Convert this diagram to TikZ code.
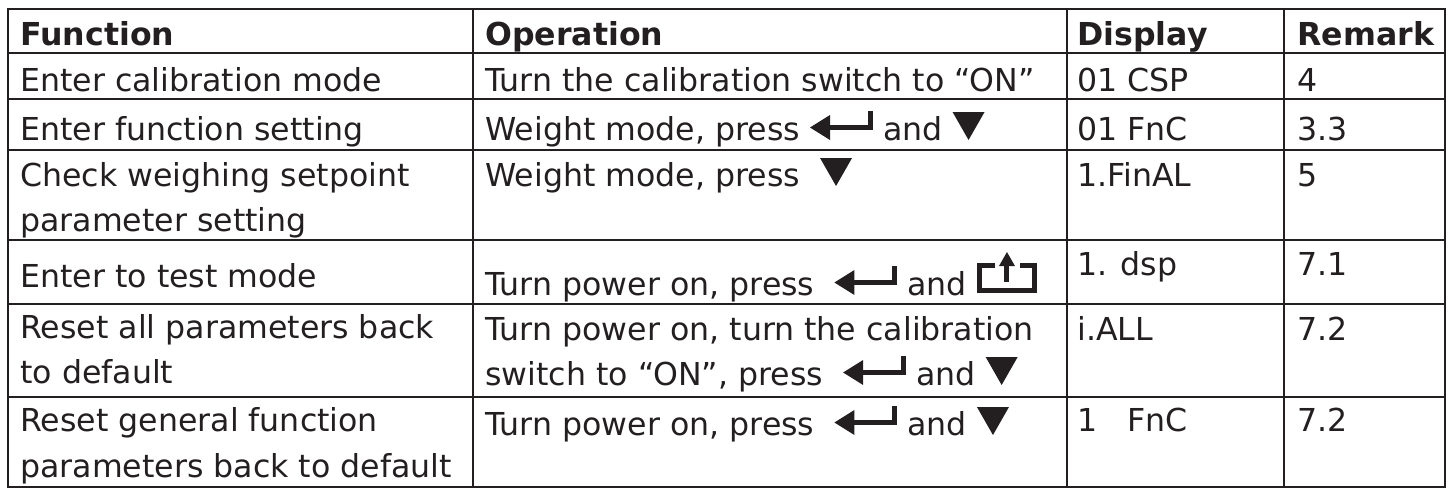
\documentclass[tikz,border=0pt]{standalone}
\usepackage{fontspec}
\setmainfont{DejaVu Sans}
\usepackage{xcolor}
\usetikzlibrary{positioning}
\definecolor{ink}{HTML}{231F20}

% key symbols, drawn inline
\newcommand{\enterkey}{\tikz[x=0.5pt,y=0.5pt,baseline=0pt]{\fill[ink] (0,12.5) -- (20,25) -- (20,0) -- cycle; \fill[ink] (18,10) rectangle (63,15); \fill[ink] (58,10) rectangle (63,29);}}
\newcommand{\downkey}{\tikz[x=0.5pt,y=0.5pt,baseline=0pt]{\fill[ink] (0,28) -- (32,28) -- (16,0) -- cycle;}}
\newcommand{\escapekey}{\tikz[x=0.5pt,y=0.5pt,baseline=0pt]{\draw[ink,line width=2.5pt] (18,29.5) -- (2.5,29.5) -- (2.5,4.5) -- (57.5,4.5) -- (57.5,29.5) -- (43,29.5); \fill[ink] (27.5,13) rectangle (32.5,30); \fill[ink] (22,29) -- (38,29) -- (30,43) -- cycle;}}

\begin{document}
\begin{tikzpicture}[x=0.5pt,y=-0.5pt,
		cellnode/.style={anchor=base west, inner sep=0pt, text=ink, font=\fontsize{15.8}{22.5}\selectfont},
		headnode/.style={cellnode, font=\fontsize{15.8}{22.5}\selectfont\bfseries},
		gridline/.style={draw=ink, line width=1.3pt},
		]
		\useasboundingbox (0,0) rectangle (1452,489);
		
		%Grid
		\draw[gridline] (8,9) rectangle (1445,487);
		\foreach \y in {53,99,150,240,304,397} \draw[gridline] (8,\y) -- (1445,\y);
		\foreach \x in {473,1067,1284} \draw[gridline] (\x,9) -- (\x,487);
		
		%Header
		\node[headnode] (h-function)  at (20,45)   {Function};
		\node[headnode] (h-operation) at (485,45)  {Operation};
		\node[headnode] (h-display)   at (1077,45) {Display};
		\node[headnode] (h-remark)    at (1297,45) {Remark};
		
		%Row 1
		\node[cellnode] (fn-1)   at (20,91)   {Enter calibration mode};
		\node[cellnode] (op-1)   at (485,91)  {Turn the calibration switch to “ON”};
		\node[cellnode] (disp-1) at (1077,91) {01 CSP};
		\node[cellnode] (rem-1)  at (1297,91) {4};
		
		%Row 2
		\node[cellnode] (fn-2)   at (20,140)   {Enter function setting};
		\node[cellnode] (op-2)   at (485,140)  {Weight mode, press \enterkey\ and \downkey};
		\node[cellnode] (disp-2) at (1077,140) {01 FnC};
		\node[cellnode] (rem-2)  at (1297,140) {3.3};
		
		%Row 3
		\node[cellnode] (fn-3)   at (20,186)   {Check weighing setpoint};
		\node[cellnode] (fn-3b)  at (20,231)   {parameter setting};
		\node[cellnode] (op-3)   at (485,186)  {Weight mode, press\ \ \downkey};
		\node[cellnode] (disp-3) at (1077,186) {1.FinAL};
		\node[cellnode] (rem-3)  at (1297,186) {5};
		
		%Row 4
		\node[cellnode] (fn-4)   at (20,287)   {Enter to test mode};
		\node[cellnode] (op-4)   at (485,295)  {Turn power on, press\ \ \enterkey\ and \escapekey};
		\node[cellnode] (disp-4) at (1077,275) {1. dsp};
		\node[cellnode] (rem-4)  at (1297,275) {7.1};
		
		%Row 5
		\node[cellnode] (fn-5)   at (20,338)   {Reset all parameters back};
		\node[cellnode] (fn-5b)  at (20,383)   {to default};
		\node[cellnode] (op-5)   at (485,340)  {Turn power on, turn the calibration};
		\node[cellnode] (op-5b)  at (485,385)  {switch to “ON”, press\ \ \enterkey\ and \downkey};
		\node[cellnode] (disp-5) at (1077,340) {i.ALL};
		\node[cellnode] (rem-5)  at (1297,340) {7.2};
		
		%Row 6
		\node[cellnode] (fn-6)   at (20,431)   {Reset general function};
		\node[cellnode] (fn-6b)  at (20,477)   {parameters back to default};
		\node[cellnode] (op-6)   at (485,435)  {Turn power on, press\ \ \enterkey\ and \downkey};
		\node[cellnode] (disp-6) at (1077,431) {1\ \ \ FnC};
		\node[cellnode] (rem-6)  at (1297,431) {7.2};
	\end{tikzpicture}
\end{document}
